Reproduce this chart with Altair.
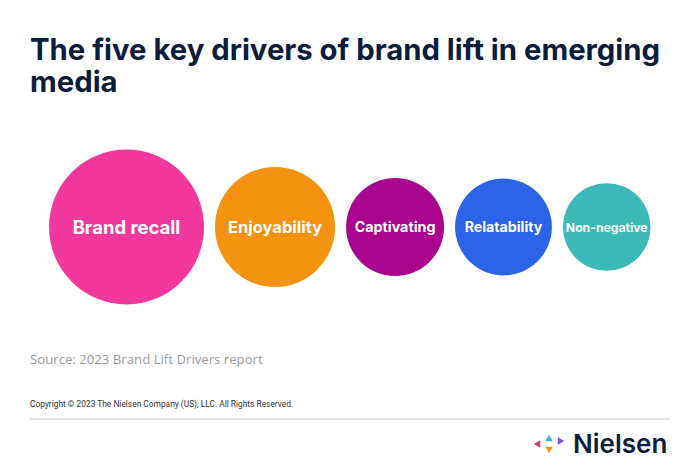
import altair as alt
import pandas as pd
import numpy as np

# ---- data ----
drivers = ["Brand recall", "Enjoyability", "Captivating", "Relatability", "Non-negative"]
weights = [100, 60, 40, 39, 32]          # relative importance (circle area)
colors = ["#F2379E", "#F5920F", "#AA058F", "#2B63E9", "#3CB9B8"]
label_sizes = [18.5, 16.5, 14.3, 14.2, 12.2]

title_lines = ["The five key drivers of brand lift in emerging", "media"]
source_text = "Source: 2023 Brand Lift Drivers report"
copyright_text = "Copyright \u00a9 2023 The Nielsen Company (US), LLC. All Rights Reserved."
brand = "Nielsen"

# ---- layout (pixel units) ----
W, H = 684, 455
MAX_D = 155.0          # diameter of the largest circle
GAP = 11.0
LEFT = 41.0
CY = 219

diam = [MAX_D * np.sqrt(w / max(weights)) for w in weights]
centers = []
pos = LEFT
for d in diam:
    centers.append(pos + d / 2)
    pos += d + GAP

df = pd.DataFrame({"driver": drivers, "weight": weights, "cx": centers})

xs = alt.Scale(domain=[0, W], range=[0, W], nice=False, zero=False)

circles = alt.Chart(df).mark_circle(opacity=1).encode(
    x=alt.X("cx:Q", scale=xs, axis=None),
    y=alt.value(CY),
    size=alt.Size("weight:Q", scale=alt.Scale(domain=[0, max(weights)], range=[0, MAX_D ** 2]), legend=None),
    color=alt.Color("driver:N", scale=alt.Scale(domain=drivers, range=colors), legend=None),
)

label_layers = []
for name, fs in zip(drivers, label_sizes):
    label_layers.append(
        alt.Chart(df).transform_filter(alt.datum.driver == name).mark_text(
            font="Inter", fontWeight="bold", color="white", baseline="middle", align="center",
            dy=1, fontSize=fs
        ).encode(
            x=alt.X("cx:Q", scale=xs, axis=None),
            y=alt.value(CY),
            text="driver:N",
        )
    )

NAVY = "#0B1D3D"

def txt(s, x, y, **kw):
    return alt.Chart(pd.DataFrame({"t": [s]})).mark_text(align="left", baseline="alphabetic", **kw).encode(
        x=alt.value(x), y=alt.value(y), text="t:N")

title1 = txt(title_lines[0], 22, 52, font="Inter", fontWeight="bold", fontSize=29.3, color=NAVY)
title2 = txt(title_lines[1], 22, 84, font="Inter", fontWeight="bold", fontSize=29.3, color=NAVY)
source = txt(source_text, 22, 356, font="Open Sans", fontSize=13.2, color="#9B9B9B")
copyr = txt(copyright_text, 22, 399, font="Roboto", fontSize=8.4, color="#333333")

rule = alt.Chart(pd.DataFrame({"a": [0]})).mark_rule(color="#E4E4E4", strokeWidth=2).encode(
    x=alt.value(22), x2=alt.value(662), y=alt.value(411))

logo_word = txt(brand, 565, 445, font="Inter", fontWeight=600, fontSize=26, color=NAVY)

def tri(shape, x, y, col):
    return alt.Chart(pd.DataFrame({"a": [0]})).mark_point(shape=shape, filled=True, opacity=1, size=55, color=col).encode(
        x=alt.value(x), y=alt.value(y))

logo = (tri("triangle-left", 529, 436, "#E8336E") + tri("triangle-up", 541, 430, "#3CB9B8")
        + tri("triangle-right", 553, 433, "#7B4DE8") + tri("triangle-down", 541, 442, "#F5920F"))

chart = alt.layer(circles, *label_layers, title1, title2, source, copyr, rule, logo_word, logo).properties(
    width=W, height=H, padding=0, autosize=alt.AutoSizeParams(type="none")
).configure_view(stroke=None)

chart.save("out.html", embed_options={"renderer": "svg", "actions": False})
